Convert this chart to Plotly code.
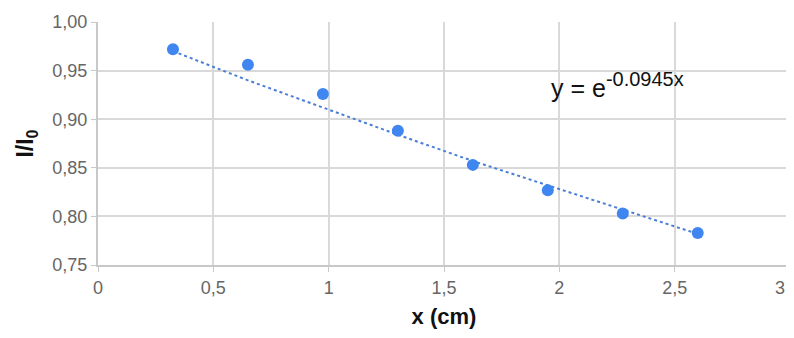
import plotly.graph_objects as go

x_cm = [0.325, 0.65, 0.975, 1.30, 1.625, 1.95, 2.275, 2.60]
ratio = [0.972, 0.956, 0.926, 0.888, 0.853, 0.827, 0.803, 0.783]
trend_y = [0.970, 0.940, 0.912, 0.884, 0.857, 0.832, 0.807, 0.782]
x_ticks = [0, 0.5, 1, 1.5, 2, 2.5, 3]
x_tick_text = ["0", "0,5", "1", "1,5", "2", "2,5", ""]
last_x_label = "3"
y_ticks = [0.75, 0.80, 0.85, 0.90, 0.95, 1.00]

fig = go.Figure()
fig.add_trace(go.Scatter(x=x_cm, y=trend_y, mode="lines",
                         line=dict(color="#4a7fd4", width=2, dash="dot"),
                         hoverinfo="skip", showlegend=False))
fig.add_trace(go.Scatter(x=x_cm, y=ratio, mode="markers",
                         marker=dict(color="#3f86f0", size=12),
                         showlegend=False))

fig.add_annotation(x=0.652, y=0.74, xref="paper", yref="paper",
                   text="y = e<sup><span style='font-size:20px'>-0.0945x</span></sup>",
                   showarrow=False, xanchor="left", yanchor="middle",
                   font=dict(family="Liberation Sans, Arial", size=25, color="#111111"))

# last x tick label, kept inside the page edge
fig.add_annotation(x=1, y=0, xref="paper", yref="paper", text=last_x_label,
                   showarrow=False, xanchor="right", yanchor="middle",
                   xshift=-3, yshift=-23,
                   font=dict(family="Liberation Sans, Arial", size=18, color="#666666"))

fig.update_layout(
    width=786, height=322,
    margin=dict(l=90, r=4, t=14, b=65),
    paper_bgcolor="white", plot_bgcolor="white",
    separators=",.",
    font=dict(family="Liberation Sans, Arial", color="#666666", size=18),
    xaxis=dict(range=[0, 3], tickvals=x_ticks, ticktext=x_tick_text, showgrid=True,
               gridcolor="#d9d9d9", gridwidth=1.5, showline=True, linecolor="#c8c8c8",
               linewidth=2, ticks="outside", ticklen=5, tickcolor="#c8c8c8", zeroline=False,
               automargin=False,
               title=dict(text="<b>x (cm)</b>", font=dict(size=22, color="#111111"), standoff=12)),
    yaxis=dict(range=[0.75, 1.0], tickvals=y_ticks, tickformat=".2f", showgrid=True,
               gridcolor="#d9d9d9", gridwidth=1.5, showline=True, linecolor="#c8c8c8",
               linewidth=2, ticks="outside", ticklen=5, tickcolor="#c8c8c8", zeroline=False,
               automargin=False,
               title=dict(text="<b>I/I<sub>0</sub></b>", font=dict(size=23, color="#111111"), standoff=12)),
)
fig.write_html("out.html")
